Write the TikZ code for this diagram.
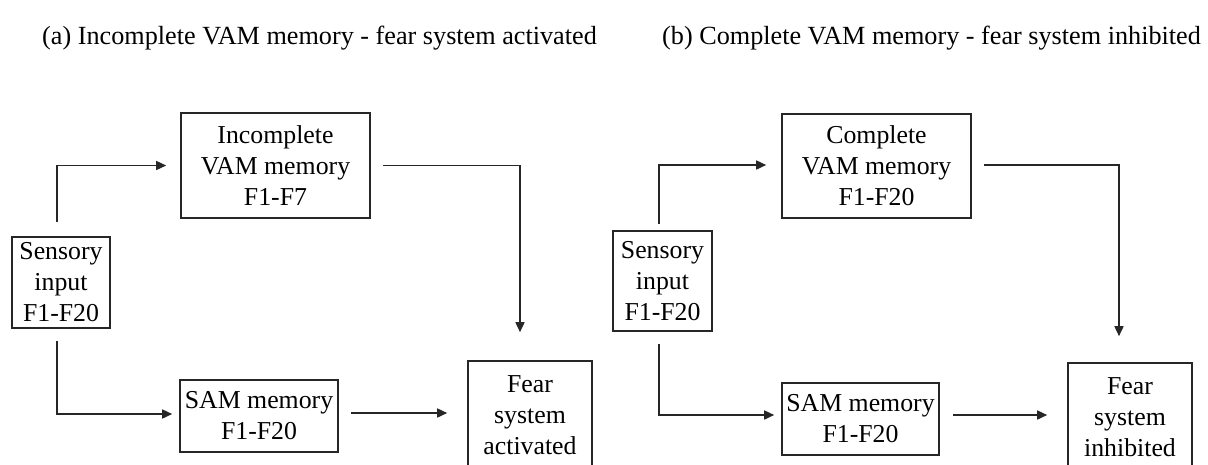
\documentclass[tikz,border=0pt]{standalone}
\usepackage{fontspec}
\setmainfont{Liberation Serif}
\usetikzlibrary{arrows.meta}
\tikzset{
  box/.style={draw=black!85, line width=1.6pt, inner sep=0pt, align=center,
    font=\fontsize{25.8}{31}\selectfont, text=black},
  arr/.style={draw=black!85, line width=1.6pt, -{Triangle[length=10pt,width=9pt]}},
  ttl/.style={font=\fontsize{26.2}{31}\selectfont, anchor=base west, inner sep=0pt, text=black}
}
\begin{document}
\begin{tikzpicture}[x=1pt,y=-1pt]
\useasboundingbox (0,0) rectangle (1208,464);
% titles
\node[ttl] (ta) at (42,44) {(a) Incomplete VAM memory - fear system activated};
\node[ttl] (tb) at (662,44) {(b) Complete VAM memory - fear system inhibited};
% left panel
\node[box, minimum width=98pt, minimum height=91pt] (sens1) at (61,282.5) {Sensory\\input\\F1-F20};
\node[box, minimum width=189pt, minimum height=105pt] (vam1) at (275.5,165.5) {Incomplete\\VAM memory\\F1-F7};
\node[box, minimum width=158pt, minimum height=72pt] (sam1) at (259,416) {SAM memory\\F1-F20};
\node[box, minimum width=124pt, minimum height=109pt] (fear1) at (530,415.5) {Fear\\system\\activated};
\draw[arr, shorten <=14pt, shorten >=14pt] ([xshift=-4pt]sens1.north) |- (vam1.west);
\draw[arr, shorten <=12pt, shorten >=7pt] ([xshift=-4pt]sens1.south) |- ([yshift=2pt]sam1.west);
\draw[arr, shorten <=12pt, shorten >=28pt] (vam1.east) -| ([xshift=-10pt]fear1.north);
\draw[arr, shorten <=12pt, shorten >=20pt] ([yshift=3pt]sam1.east) -- ([yshift=3pt]sam1.east -| fear1.west);
% right panel
\node[box, minimum width=99pt, minimum height=100pt] (sens2) at (662.5,281) {Sensory\\input\\F1-F20};
\node[box, minimum width=189pt, minimum height=104pt] (vam2) at (876.5,166) {Complete\\VAM memory\\F1-F20};
\node[box, minimum width=157pt, minimum height=72pt] (sam2) at (860.5,419) {SAM memory\\F1-F20};
\node[box, minimum width=124pt, minimum height=109pt] (fear2) at (1130,417.5) {Fear\\system\\inhibited};
\draw[arr, shorten <=6pt, shorten >=15pt] ([xshift=-3.5pt]sens2.north) |- ([yshift=1pt]vam2.west);
\draw[arr, shorten <=12pt, shorten >=7pt] ([xshift=-3.5pt]sens2.south) |- ([yshift=4pt]sam2.west);
\draw[arr, shorten <=12pt, shorten >=26pt] ([yshift=1pt]vam2.east) -| ([xshift=-11pt]fear2.north);
\draw[arr, shorten <=13pt, shorten >=20pt] ([yshift=4pt]sam2.east) -- ([yshift=4pt]sam2.east -| fear2.west);
\end{tikzpicture}
\end{document}
